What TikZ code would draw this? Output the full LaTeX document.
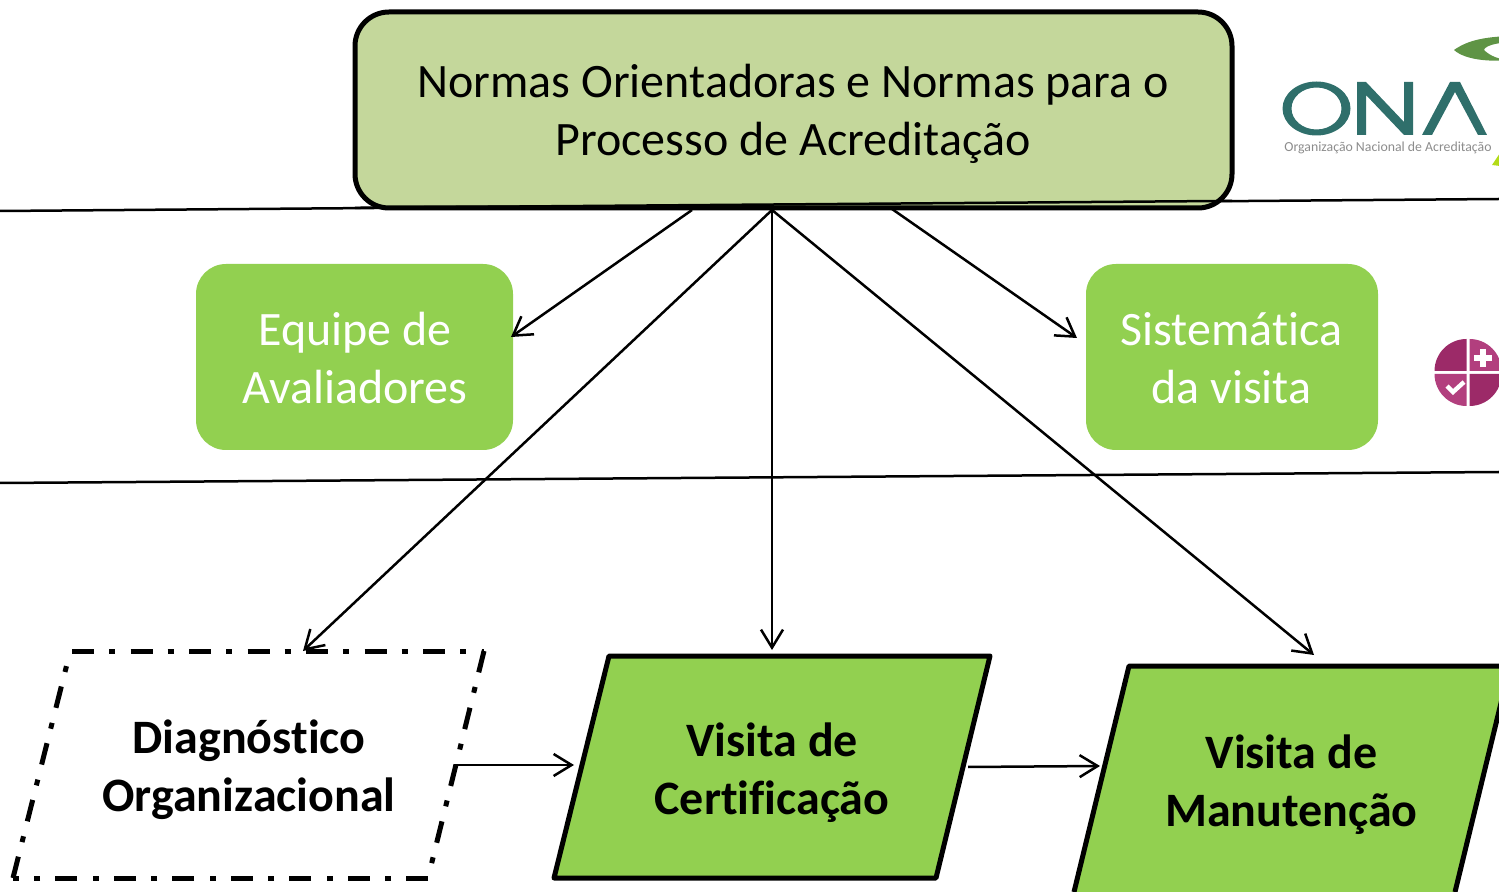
\documentclass[tikz,border=0pt]{standalone}
\usepackage{fontspec}
\setmainfont{Carlito}[Ligatures=CommonOff]
\usetikzlibrary{arrows.meta}
\definecolor{oliveg}{HTML}{C4D79B}
\definecolor{limeg}{HTML}{92D050}
\definecolor{onateal}{HTML}{2F6F6B}
\definecolor{onaleaf}{HTML}{5F9445}
\definecolor{onagray}{HTML}{8C8C8C}
\definecolor{iconA}{HTML}{9C2A68}
\definecolor{iconB}{HTML}{B23F7E}
\tikzset{
  txt/.style={align=center,font=\fontsize{24}{29}\selectfont,inner sep=0pt},
  boldtxt/.style={txt,font=\fontsize{24}{29}\selectfont\bfseries},
  whitetxt/.style={txt,text=white},
  softbox/.style={fill=limeg,rounded corners=15pt},
  para/.style={draw=black,fill=limeg,line width=2.5pt,line join=round},
  dashpara/.style={draw=black,line width=2.5pt,dash pattern=on 11pt off 7.5pt on 3pt off 7.75pt},
  conn/.style={draw=black,line width=1.25pt,-{Straight Barb[length=9pt,width=11pt,line width=1.25pt]}},
  rule/.style={draw=black,line width=1.25pt},
}
\begin{document}
\begin{tikzpicture}[x=0.5pt,y=-0.5pt]
\useasboundingbox (0,0) rectangle (1499,892);
\begin{scope}
\clip (0,0) rectangle (1499,892);
% ONA logo
\fill[onateal,even odd rule] (1316.5,108.5) ellipse [x radius=34,y radius=27] (1316.5,108.5) ellipse [x radius=25,y radius=21];
\fill[onateal] (1357,135) -- (1357,82) -- (1366,82) -- (1404,122) -- (1404,82) -- (1413,82) -- (1413,135) -- (1404,135) -- (1366,95) -- (1366,135) -- cycle;
\fill[onateal] (1422,135) -- (1450,82) -- (1460,82) -- (1487,135) -- (1478,135) -- (1455,92) -- (1432,135) -- cycle;
\fill[onaleaf] (1454,50) .. controls (1468,40) and (1485,37) .. (1510,36) -- (1510,42) .. controls (1495,43) and (1485,46) .. (1484,50) .. controls (1490,56) and (1500,60) .. (1510,60) .. controls (1490,62) and (1465,60) .. (1454,50) -- cycle;
\fill[yellow!70!green] (1492,165) -- (1500,153) -- (1500,166) -- cycle;
\node[text=onagray,font=\fontsize{6.9}{8}\selectfont,inner sep=0pt] (onatext) at (1388,148) {Organização Nacional de Acreditação};
% icon
\fill[iconA] (1466.5,371) -- (1466.5,339) arc (-90:-180:32) -- cycle;
\fill[iconB] (1469.5,371) -- (1469.5,339) arc (-90:0:32) -- cycle;
\fill[iconB] (1466.5,374) -- (1434.5,374) arc (180:90:32) -- cycle;
\fill[iconA] (1469.5,374) -- (1501.5,374) arc (0:90:32) -- cycle;
\draw[white,line width=3pt] (1474,358) -- (1492,358) (1483,349) -- (1483,367);
\draw[white,line width=2.2pt] (1447,386) -- (1453,392) -- (1464,382);
\end{scope}
% main nodes
\draw[rule] (0,211) -- (1499,199);
\node[draw=black,fill=oliveg,line width=2.5pt,rounded corners=17pt,minimum width=438.5pt,minimum height=98pt,inner sep=0pt] (top) at (793.5,110) {};
\draw[rule] (355,207.8) -- (1232,200.9);
\node[txt] (toplabel) at (793,114) {Normas Orientadoras e Normas para o\\Processo de Acreditação};
\node[softbox,minimum width=158.5pt,minimum height=93pt,inner sep=0pt] (equipe) at (354.5,357) {};
\node[whitetxt] at (355,358) {Equipe de\\Avaliadores};
\node[softbox,minimum width=146pt,minimum height=93pt,inner sep=0pt] (sist) at (1232,357) {};
\node[whitetxt] at (1231.5,358) {Sistemática\\da visita};
\draw[rule] (0,483) -- (1499,472);
% parallelograms
\coordinate (da) at (72,651);
\coordinate (db) at (484,651);
\coordinate (dc) at (428,878);
\coordinate (dd) at (13,878);
\coordinate (de) at (67,664);
\draw[dashpara] (da) -- (db);
\draw[dashpara] (db) -- (dc);
\draw[dashpara] (dc) -- (dd);
\draw[dashpara] (dd) -- (de);
\node[boldtxt] (diag) at (249,769.5) {Diagnóstico\\Organizacional};
\coordinate (ca) at (609,656);
\coordinate (cb) at (990,656);
\coordinate (cc) at (936,878);
\coordinate (cd) at (554,878);
\draw[para] (ca) -- (cb) -- (cc) -- (cd) -- cycle;
\node[boldtxt] (cert) at (772,772.5) {Visita de\\Certificação};
\begin{scope}
\clip (0,0) rectangle (1499,892);
\coordinate (ma) at (1129,666);
\coordinate (mb) at (1510,666);
\coordinate (mc) at (1455,892);
\coordinate (md) at (1074,892);
\draw[para] (md) -- (ma) -- (mb) -- (mc);
\end{scope}
\node[boldtxt] (manut) at (1291.5,784.5) {Visita de\\Manutenção};
% connector ends
\coordinate (t1) at (692,210);
\coordinate (t2) at (772,210);
\coordinate (t3) at (892,209);
\coordinate (e1) at (511,337);
\coordinate (s1) at (1077,338);
\coordinate (d1) at (303,651);
\coordinate (c1) at (772,650);
\coordinate (m1) at (1314,655);
\coordinate (d2) at (454,765);
\coordinate (c2) at (574,765);
\coordinate (c3) at (968,767);
\coordinate (m2) at (1100,766);
\draw[conn] (t1) -- (e1);
\draw[conn] (t3) -- (s1);
\draw[conn] (t2) -- (d1);
\draw[conn] (t2) -- (c1);
\draw[conn] (t2) -- (m1);
\draw[conn] (d2) -- (c2);
\draw[conn] (c3) -- (m2);
\end{tikzpicture}
\end{document}
